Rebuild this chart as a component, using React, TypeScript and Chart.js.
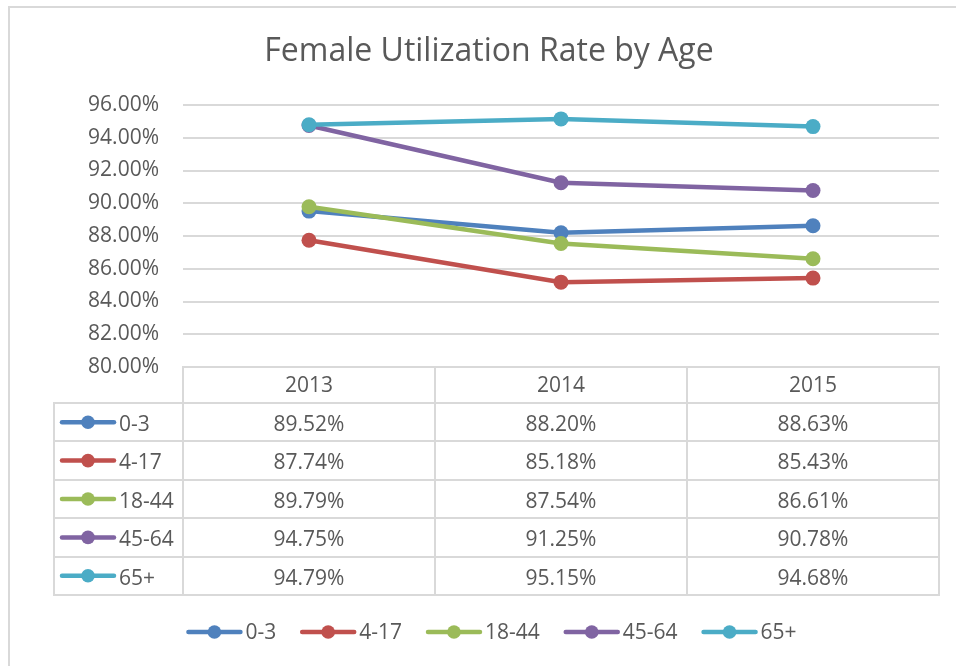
import { useEffect, useRef } from "react";
import { Chart, registerables } from "chart.js";

Chart.register(...registerables);

// ---- data ----
const titleText = "Female Utilization Rate by Age";
const years = ["2013", "2014", "2015"];
const seriesLabels = ["0-3", "4-17", "18-44", "45-64", "65+"];
const age0to3 = [89.52, 88.2, 88.63];
const age4to17 = [87.74, 85.18, 85.43];
const age18to44 = [89.79, 87.54, 86.61];
const age45to64 = [94.75, 91.25, 90.78];
const age65plus = [94.79, 95.15, 94.68];
const seriesValues = [age0to3, age4to17, age18to44, age45to64, age65plus];
const seriesColors = ["#4F81BD", "#C0504D", "#9BBB59", "#8064A2", "#4BACC6"];
const yMin = 80;
const yMax = 96;
const yStep = 2;

// ---- styles ----
const FONT = '"Open Sans", "Noto Sans", sans-serif';
const TEXT = "#595959";
const LINE = "#d9d9d9";

function drawKey(ctx: CanvasRenderingContext2D, x0: number, y: number, color: string) {
  ctx.save();
  ctx.strokeStyle = color;
  ctx.fillStyle = color;
  ctx.lineWidth = 4.5;
  ctx.lineCap = "round";
  ctx.beginPath();
  ctx.moveTo(x0 + 2, y);
  ctx.lineTo(x0 + 54, y);
  ctx.stroke();
  ctx.beginPath();
  ctx.arc(x0 + 28, y, 6.8, 0, Math.PI * 2);
  ctx.fill();
  ctx.restore();
}

const tablePlugin = {
  id: "excelTable",
  afterDraw(chart: any) {
    const ctx: CanvasRenderingContext2D = chart.ctx;
    const ca = chart.chartArea;
    ctx.save();

    // outer frame
    ctx.strokeStyle = LINE;
    ctx.lineWidth = 2;
    ctx.beginPath();
    ctx.moveTo(9, chart.height);
    ctx.lineTo(9, 7);
    ctx.lineTo(chart.width, 7);
    ctx.stroke();

    // title
    ctx.fillStyle = TEXT;
    ctx.font = `32px ${FONT}`;
    ctx.textAlign = "center";
    ctx.textBaseline = "alphabetic";
    ctx.fillText(titleText, 489, 61);

    // data table
    const n = years.length;
    const colW = (ca.right - ca.left) / n;
    const top = Math.round(ca.bottom);
    const headH = 36;
    const rowH = 38.4;
    const labelLeft = 54;
    const rowsTop = top + headH;
    const rowY = (i: number) => Math.round(rowsTop + i * rowH);
    const bottom = rowY(seriesLabels.length);

    ctx.strokeStyle = LINE;
    ctx.lineWidth = 2;
    ctx.beginPath();
    ctx.moveTo(ca.left - 1, top);
    ctx.lineTo(ca.right + 1, top);
    for (let i = 0; i <= seriesLabels.length; i++) {
      const y = rowY(i);
      ctx.moveTo(labelLeft - 1, y);
      ctx.lineTo(ca.right + 1, y);
    }
    ctx.moveTo(labelLeft, rowsTop);
    ctx.lineTo(labelLeft, bottom + 1);
    for (let j = 0; j <= n; j++) {
      const x = Math.round(ca.left + j * colW);
      ctx.moveTo(x, top);
      ctx.lineTo(x, bottom + 1);
    }
    ctx.stroke();

    ctx.fillStyle = TEXT;
    ctx.font = `21px ${FONT}`;
    ctx.textAlign = "center";
    ctx.textBaseline = "alphabetic";
    years.forEach((yr, j) => {
      const cx = ca.left + (j + 0.5) * colW;
      ctx.fillText(yr, cx, top + 25);
    });

    seriesLabels.forEach((lab, i) => {
      const yTop = rowsTop + i * rowH;
      const cy = yTop + rowH / 2;
      drawKey(ctx, labelLeft + 6, cy, seriesColors[i]);
      ctx.fillStyle = TEXT;
      ctx.textAlign = "left";
      ctx.fillText(lab, labelLeft + 65, yTop + 28);
      ctx.textAlign = "center";
      seriesValues[i].forEach((v, j) => {
        const cx = ca.left + (j + 0.5) * colW;
        ctx.fillText(v.toFixed(2) + "%", cx, yTop + 28);
      });
    });

    // bottom legend
    const keyW = 59;
    const gap = 24;
    const widths = seriesLabels.map((l) => keyW + ctx.measureText(l).width);
    const total = widths.reduce((a, b) => a + b, 0) + gap * (widths.length - 1);
    let x = 491.5 - total / 2;
    const ly = 632;
    ctx.textAlign = "left";
    ctx.textBaseline = "middle";
    seriesLabels.forEach((lab, i) => {
      drawKey(ctx, x, ly, seriesColors[i]);
      ctx.fillStyle = TEXT;
      ctx.fillText(lab, x + keyW, ly + 1);
      x += widths[i] + gap;
    });

    ctx.restore();
  },
};

export default function App() {
  const ref = useRef<HTMLCanvasElement | null>(null);

  useEffect(() => {
    if (!ref.current) return;
    const chart = new Chart(ref.current, {
      type: "line",
      data: {
        labels: years,
        datasets: seriesLabels.map((lab, i) => ({
          label: lab,
          data: seriesValues[i],
          borderColor: seriesColors[i],
          backgroundColor: seriesColors[i],
          pointBackgroundColor: seriesColors[i],
          pointBorderColor: seriesColors[i],
          borderWidth: 4.5,
          pointRadius: 7.5,
          pointBorderWidth: 0,
          tension: 0,
          fill: false,
          order: seriesLabels.length - i,
        })),
      },
      options: {
        animation: false,
        responsive: false,
        devicePixelRatio: 1,
        layout: { padding: { left: 0, right: 17, top: 105, bottom: 299 } },
        plugins: {
          legend: { display: false },
          title: { display: false },
          tooltip: { enabled: false },
        },
        scales: {
          x: {
            type: "category",
            offset: true,
            display: false,
          },
          y: {
            min: yMin,
            max: yMax,
            afterFit: (s: any) => {
              s.width = 183;
            },
            border: { display: false },
            grid: { color: LINE, lineWidth: 2, drawTicks: false },
            ticks: {
              stepSize: yStep,
              autoSkip: false,
              padding: 24,
              color: TEXT,
              font: { family: FONT, size: 21 },
              callback: (v: any) => Number(v).toFixed(2) + "%",
            },
          },
        },
      },
      plugins: [tablePlugin],
    });
    return () => chart.destroy();
  }, []);

  return (
    <canvas
      ref={ref}
      width={956}
      height={666}
      style={{ position: "fixed", left: 0, top: 0, width: 956, height: 666, display: "block", background: "#fff" }}
    />
  );
}
